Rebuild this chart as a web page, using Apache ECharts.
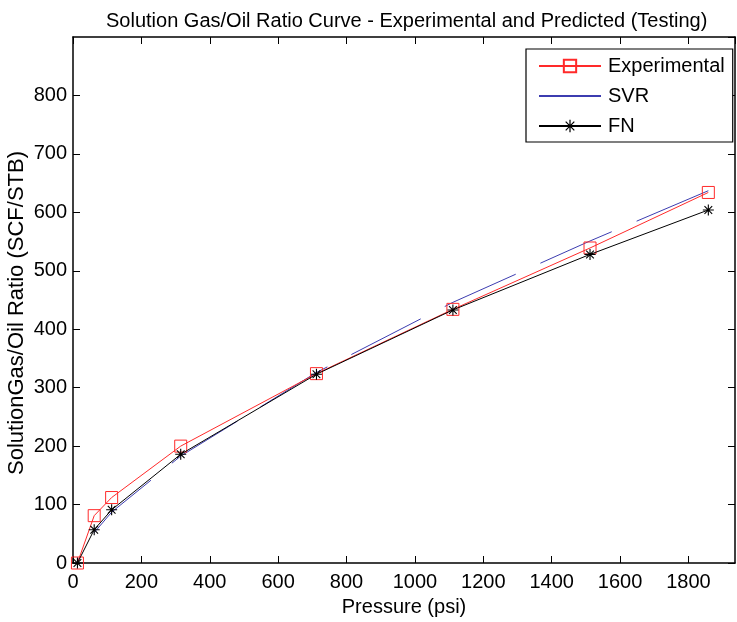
<!DOCTYPE html>
<html>
<head>
<meta charset="utf-8">
<script src="https://cdn.jsdelivr.net/npm/echarts@6/dist/echarts.min.js"></script>
<style>
html,body{margin:0;padding:0;background:#fff;}
#chart{width:737px;height:622px;}
</style>
</head>
<body>
<div id="chart"></div>
<script>
// Data
const pressure = [13, 62, 113, 315, 712, 1111, 1512, 1858];
const experimental = [0, 81, 112, 200, 324, 434, 539, 634];
const svr = [3, 52, 87, 183, 326, 446, 551, 637];
const fn = [0, 57, 91, 186, 323, 433, 528, 604];
const seriesNames = ['Experimental', 'SVR', 'FN'];
const titleText = 'Solution Gas/Oil Ratio Curve - Experimental and Predicted (Testing)';
const xName = 'Pressure (psi)';
const yName = 'SolutionGas/Oil Ratio (SCF/STB)';

function pairs(xs, ys) { return xs.map((x, i) => [x, ys[i]]); }

const FONT = '"Liberation Sans", Arial, Helvetica, sans-serif';
const starPath = 'path://M45 0H55V100H45Z M0 45H100V55H0Z M18.5 11.5L88.5 81.5L81.5 88.5L11.5 18.5Z M88.5 18.5L18.5 88.5L11.5 81.5L81.5 11.5Z';

const XMAX = 1936, YMAX = 900;
function axisLine() { return {show: true, onZero: false, lineStyle: {color: '#000', width: 1.5}}; }
function tickIn() { return {show: true, inside: true, length: 7, lineStyle: {color: '#000', width: 1}}; }

const chart = echarts.init(document.getElementById('chart'), null, {renderer: 'canvas'});
chart.setOption({
  animation: false,
  backgroundColor: '#fff',
  textStyle: {fontFamily: FONT, color: '#000'},
  title: {
    text: titleText, left: 101, top: 6,
    textStyle: {fontFamily: FONT, fontSize: 20, fontWeight: 'normal', color: '#000'}
  },
  grid: {left: 73, right: 2, top: 37, bottom: 59, containLabel: false, outerBoundsMode: 'none'},
  legend: {
    orient: 'vertical', left: 526, top: 49,
    padding: [7, 8, 6, 12],
    itemWidth: 62, itemHeight: 15.4, itemGap: 10,
    backgroundColor: '#fff', borderColor: '#000', borderWidth: 1.2, borderRadius: 0,
    textStyle: {fontFamily: FONT, fontSize: 20, color: '#000', lineHeight: 20, padding: [0, 0, 0, 2]},
    selectedMode: false,
    data: [
      {name: seriesNames[0]},
      {name: seriesNames[1], itemStyle: {color: 'rgba(0,0,0,0)', borderWidth: 0}, lineStyle: {type: 'solid', dashOffset: 0}},
      {name: seriesNames[2]}
    ]
  },
  xAxis: [{
    type: 'value', min: 0, max: XMAX, interval: 200, position: 'bottom',
    name: xName, nameLocation: 'middle', nameGap: 34, nameMoveOverlap: false,
    nameTextStyle: {fontFamily: FONT, fontSize: 20, color: '#000'},
    axisLine: axisLine(), axisTick: tickIn(), splitLine: {show: false},
    axisLabel: {fontFamily: FONT, fontSize: 20, color: '#000', margin: 9, showMaxLabel: false,
      formatter: v => (v % 200 === 0 ? String(v) : '')}
  }, {
    type: 'value', min: 0, max: XMAX, interval: 200, position: 'top',
    axisLine: axisLine(), axisTick: tickIn(), axisLabel: {show: false}, splitLine: {show: false}
  }],
  yAxis: [{
    type: 'value', min: 0, max: YMAX, interval: 100, position: 'left',
    name: yName, nameLocation: 'middle', nameGap: 45, nameRotate: 90, nameMoveOverlap: false,
    nameTextStyle: {fontFamily: FONT, fontSize: 22, color: '#000', padding: [0, 26, 0, 0]},
    axisLine: axisLine(), axisTick: tickIn(), splitLine: {show: false},
    axisLabel: {fontFamily: FONT, fontSize: 20, color: '#000', margin: 6, showMaxLabel: false}
  }, {
    type: 'value', min: 0, max: YMAX, interval: 100, position: 'right',
    axisLine: axisLine(), axisTick: tickIn(), axisLabel: {show: false}, splitLine: {show: false}
  }],
  series: [{
    name: seriesNames[0], type: 'line', data: pairs(pressure, experimental),
    xAxisIndex: 0, yAxisIndex: 0,
    symbol: 'rect', symbolSize: 12, showAllSymbol: true,
    lineStyle: {color: '#ff2a2a', width: 1},
    itemStyle: {color: 'rgba(0,0,0,0)', borderColor: '#ff2a2a', borderWidth: 1},
    emphasis: {disabled: true}, z: 3
  }, {
    name: seriesNames[1], type: 'line', data: pairs(pressure, svr),
    xAxisIndex: 0, yAxisIndex: 0,
    symbol: 'none', showSymbol: false,
    lineStyle: {color: '#3c3cb0', width: 1, type: [78, 27], dashOffset: 72.3},
    itemStyle: {color: '#3c3cb0'},
    emphasis: {disabled: true}, z: 2
  }, {
    name: seriesNames[2], type: 'line', data: pairs(pressure, fn),
    xAxisIndex: 0, yAxisIndex: 0,
    symbol: starPath, symbolSize: 11, showAllSymbol: true,
    lineStyle: {color: '#000', width: 1},
    itemStyle: {color: '#000'},
    emphasis: {disabled: true}, z: 4
  }]
});
</script>
</body>
</html>
